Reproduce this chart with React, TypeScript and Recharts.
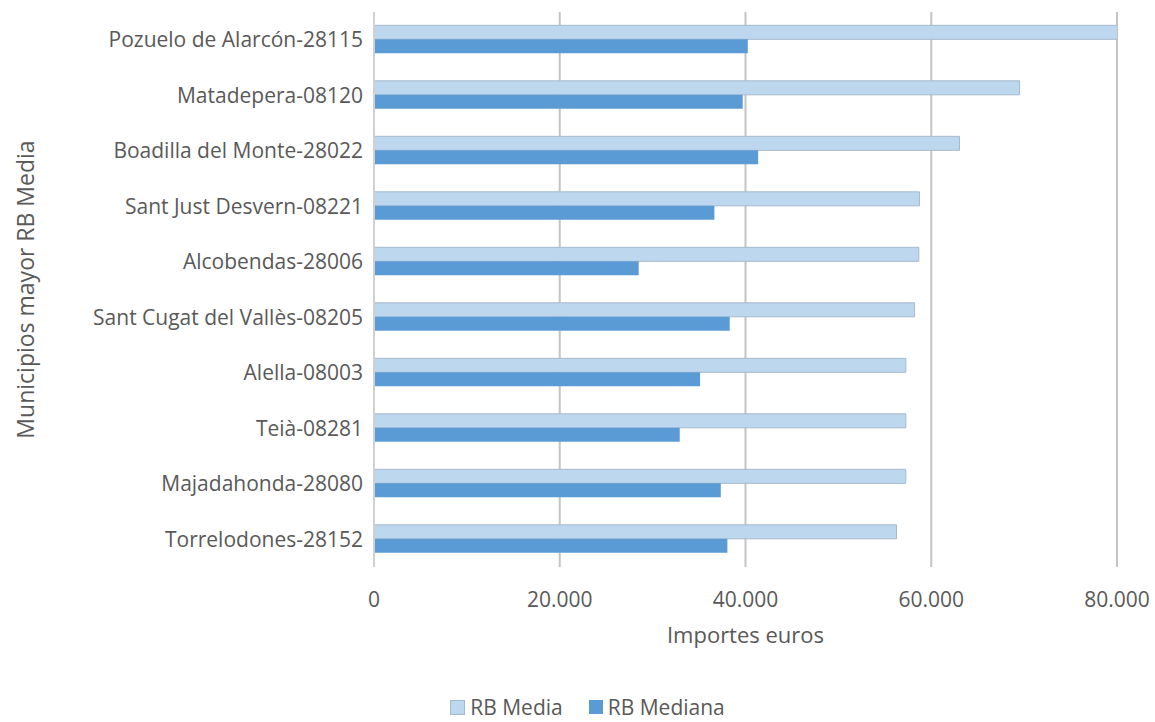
import React from 'react';
import { BarChart, Bar, XAxis, YAxis, CartesianGrid, Legend } from 'recharts';

const municipios = [
  'Pozuelo de Alarcón-28115',
  'Matadepera-08120',
  'Boadilla del Monte-28022',
  'Sant Just Desvern-08221',
  'Alcobendas-28006',
  'Sant Cugat del Vallès-08205',
  'Alella-08003',
  'Teià-08281',
  'Majadahonda-28080',
  'Torrelodones-28152',
];

const rbMedia = [80270, 69500, 63040, 58730, 58660, 58200, 57260, 57260, 57260, 56260];
const rbMediana = [40250, 39700, 41360, 36650, 28500, 38300, 35110, 32920, 37340, 38050];

const xTicks = [0, 20000, 40000, 60000, 80000];

const chartData = municipios.map((name, i) => ({
  name,
  media: rbMedia[i],
  mediana: rbMediana[i],
}));

const FONT = '"Open Sans", "Noto Sans", sans-serif';
const TEXT = '#595959';

// miles con punto, estilo español
const fmt = (v: number) => {
  if (v === 0) return '0';
  return String(Math.round(v)).replace(/\B(?=(\d{3})+(?!\d))/g, '.');
};

const LegendContent = () => (
  <div style={{ display: 'flex', justifyContent: 'center', alignItems: 'center', height: 30, paddingLeft: 58, fontFamily: FONT, fontSize: 21, color: TEXT }}>
    <span style={{ display: 'inline-block', width: 13, height: 13, background: '#BDD7EE', border: '1px solid #A6B9CC', marginRight: 5 }} />
    <span style={{ marginRight: 26 }}>RB Media</span>
    <span style={{ display: 'inline-block', width: 14, height: 14, background: '#5B9BD5', marginRight: 5 }} />
    <span>RB Mediana</span>
  </div>
);

export default function App() {
  return (
    <div style={{ position: 'absolute', left: 0, top: 0, background: '#fff' }}>
      <BarChart
        width={1155}
        height={722}
        data={chartData}
        layout="vertical"
        margin={{ top: 12, right: 38, left: 0, bottom: 0 }}
        barCategoryGap="24%"
        barGap={0}
      >
        <CartesianGrid horizontal={false} stroke="#C4C4C4" strokeWidth={2} />
        <XAxis
          type="number"
          domain={[0, 80000]}
          allowDataOverflow
          ticks={xTicks}
          tickFormatter={fmt}
          axisLine={false}
          tickLine={false}
          tickMargin={19}
          height={125}
          tick={{ fill: TEXT, fontSize: 21, fontFamily: FONT }}
          label={{ value: 'Importes euros', position: 'insideTop', offset: 60, fill: TEXT, fontSize: 22, fontFamily: FONT }}
        />
        <YAxis
          type="category"
          dataKey="name"
          width={374}
          axisLine={{ stroke: '#D0D0D0', strokeWidth: 2 }}
          tickLine={false}
          tickMargin={5}
          interval={0}
          tick={{ fill: TEXT, fontSize: 21, fontFamily: FONT }}
          label={{ value: 'Municipios mayor RB Media', angle: -90, position: 'insideLeft', offset: 26, fill: TEXT, fontSize: 23, fontFamily: FONT, style: { textAnchor: 'middle' } }}
        />
        <Legend verticalAlign="bottom" align="center" content={<LegendContent />} />
        <Bar dataKey="media" name="RB Media" fill="#BDD7EE" stroke="#A6B9CC" strokeWidth={1} isAnimationActive={false} />
        <Bar dataKey="mediana" name="RB Mediana" fill="#5B9BD5" isAnimationActive={false} />
      </BarChart>
    </div>
  );
}
